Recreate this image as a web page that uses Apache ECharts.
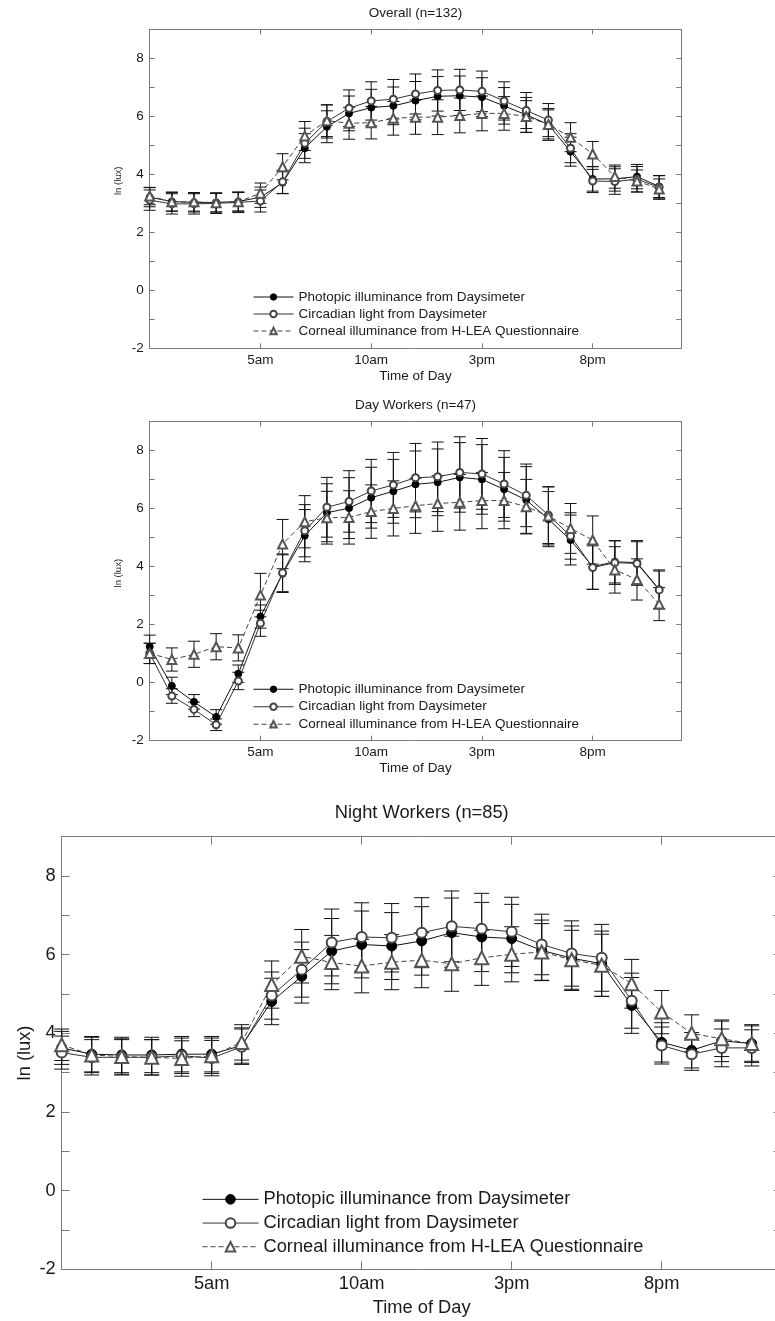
<!DOCTYPE html>
<html>
<head>
<meta charset="utf-8">
<title>Light exposure by time of day</title>
<script src="https://cdn.jsdelivr.net/npm/echarts@6/dist/echarts.min.js"></script>
<style>
  body { margin: 0; background: #fff; }
  #main { width: 775px; height: 1321px; }
</style>
</head>
<body>
<div id="main"></div>
<script>
// hour of day for every point (0 = midnight)
var hours = [0,1,2,3,4,5,6,7,8,9,10,11,12,13,14,15,16,17,18,19,20,21,22,23];
var xTickLabels = { 5: '5am', 10: '10am', 15: '3pm', 20: '8pm' };
var seriesNames = [
  'Photopic illuminance from Daysimeter',
  'Circadian light from Daysimeter',
  'Corneal illuminance from H-LEA Questionnaire'
];
var panelTitles = ['Overall (n=132)', 'Day Workers (n=47)', 'Night Workers (n=85)'];

// Overall (n=132)
var overallPhotopic  = [3.21,3.06,3.03,3.03,3.06,3.21,3.71,4.90,5.64,6.10,6.30,6.36,6.54,6.69,6.71,6.66,6.36,6.05,5.72,4.78,3.84,3.84,3.92,3.58];
var overallCircadian = [3.11,2.98,2.98,3.00,3.03,3.08,3.74,5.07,5.82,6.28,6.53,6.59,6.77,6.89,6.91,6.86,6.53,6.20,5.87,4.90,3.77,3.75,3.83,3.55];
var overallCorneal   = [3.25,3.05,3.05,3.02,3.05,3.35,4.26,5.32,5.85,5.76,5.78,5.93,5.97,5.97,6.03,6.10,6.10,5.99,5.72,5.28,4.70,3.92,3.77,3.49];
var overallPhotopicErr  = [0.33,0.33,0.33,0.33,0.33,0.35,0.38,0.50,0.55,0.60,0.63,0.65,0.66,0.68,0.68,0.67,0.63,0.60,0.55,0.50,0.42,0.42,0.42,0.38];
var overallCircadianErr = [0.35,0.35,0.35,0.35,0.35,0.38,0.40,0.52,0.57,0.63,0.66,0.68,0.69,0.71,0.71,0.70,0.66,0.62,0.57,0.50,0.40,0.44,0.44,0.40];
var overallCornealErr   = [0.30,0.32,0.32,0.32,0.32,0.35,0.45,0.50,0.55,0.55,0.56,0.58,0.59,0.60,0.60,0.60,0.58,0.55,0.50,0.50,0.43,0.40,0.38,0.35];

// Day workers (n=47)
var dayPhotopic  = [1.24,-0.11,-0.66,-1.18,0.31,2.28,3.76,5.07,5.86,6.02,6.38,6.60,6.84,6.91,7.08,7.01,6.67,6.30,5.64,4.92,4.00,4.17,4.14,3.22];
var dayCircadian = [1.01,-0.46,-0.92,-1.45,0.06,2.05,3.79,5.24,6.05,6.25,6.61,6.82,7.07,7.10,7.25,7.20,6.85,6.46,5.78,5.06,3.97,4.14,4.11,3.20];
var dayCorneal   = [1.01,0.80,0.98,1.24,1.20,3.02,4.78,5.55,5.69,5.70,5.90,6.01,6.10,6.18,6.22,6.28,6.28,6.07,5.75,5.32,4.92,3.89,3.56,2.71];
var dayPhotopicErr  = [0.40,0.30,0.25,0.25,0.30,0.40,0.65,0.90,1.00,1.05,1.05,1.10,1.15,1.15,1.20,1.20,1.10,1.15,0.95,0.86,0.78,0.73,0.76,0.67];
var dayCircadianErr = [0.35,0.25,0.25,0.20,0.30,0.45,0.65,0.90,1.03,1.06,1.09,1.12,1.18,1.20,1.23,1.22,1.15,1.08,0.98,0.80,0.75,0.75,0.75,0.65];
var dayCornealErr   = [0.35,0.40,0.45,0.45,0.45,0.75,0.85,0.90,0.91,0.92,0.92,0.95,0.95,0.96,0.96,0.97,0.97,0.94,1.00,0.86,0.83,0.80,0.71,0.57];

// Night workers (n=85)
var nightPhotopic  = [3.63,3.47,3.45,3.45,3.47,3.47,3.69,4.81,5.45,6.09,6.26,6.22,6.35,6.56,6.45,6.41,6.11,5.91,5.77,4.71,3.77,3.57,3.81,3.74];
var nightCircadian = [3.51,3.39,3.39,3.39,3.43,3.37,3.66,4.96,5.62,6.31,6.45,6.43,6.56,6.72,6.66,6.58,6.26,6.03,5.92,4.83,3.69,3.47,3.63,3.63];
var nightCorneal   = [3.71,3.45,3.41,3.39,3.36,3.43,3.77,5.24,5.96,5.80,5.71,5.81,5.86,5.77,5.92,6.01,6.07,5.87,5.73,5.26,4.54,4.00,3.86,3.74];
var nightPhotopicErr  = [0.42,0.45,0.45,0.45,0.45,0.45,0.45,0.59,0.68,0.83,0.85,0.85,0.87,0.88,0.88,0.87,0.77,0.82,0.83,0.71,0.50,0.45,0.53,0.48];
var nightCircadianErr = [0.42,0.45,0.45,0.45,0.45,0.45,0.45,0.60,0.70,0.85,0.87,0.87,0.89,0.90,0.90,0.88,0.77,0.83,0.85,0.70,0.47,0.41,0.48,0.46];
var nightCornealErr   = [0.40,0.45,0.45,0.45,0.45,0.45,0.45,0.60,0.68,0.69,0.68,0.70,0.70,0.70,0.70,0.70,0.72,0.75,0.79,0.62,0.55,0.47,0.45,0.45];

var chart = echarts.init(document.getElementById('main'));

var frameColor = '#7a7a7a';
var textColor = '#1a1a1a';
var font = 'Liberation Sans, Arial, sans-serif';

// one entry per panel: grid box, font sizes, marker sizes, legend spot
var panels = [
  { grid: { left: 149.7, top: 29.3, width: 531.6, height: 319 }, fs: 13.5, yfs: 9.5, tick: 5, dot: 7, tri: 9, cap: 6,
    labelMargin: 5, nameGap: 21, yNameGap: 26, yNamePad: [0, 0, 0, 16],
    legendLeft: 253, legendTop: 288.5, legendW: 40, legendH: 8, legendLine: 17, titleTop: 6,
    values: [overallPhotopic, overallCircadian, overallCorneal], errs: [overallPhotopicErr, overallCircadianErr, overallCornealErr] },
  { grid: { left: 149.7, top: 421.7, width: 531.6, height: 319 }, fs: 13.5, yfs: 9.5, tick: 5, dot: 7, tri: 9, cap: 6,
    labelMargin: 5, nameGap: 21, yNameGap: 26, yNamePad: [0, 0, 0, 16],
    legendLeft: 253, legendTop: 680.5, legendW: 40, legendH: 8, legendLine: 17.5, titleTop: 398,
    values: [dayPhotopic, dayCircadian, dayCorneal], errs: [dayPhotopicErr, dayCircadianErr, dayCornealErr] },
  { grid: { left: 61.7, top: 836.7, width: 720, height: 432.6 }, fs: 18.3, yfs: 18.3, tick: 8, dot: 10, tri: 13, cap: 7.5,
    labelMargin: 6, nameGap: 29.5, yNameGap: 28, yNamePad: 0,
    legendLeft: 202, legendTop: 1187.5, legendW: 56, legendH: 12, legendLine: 23.7, titleTop: 804,
    values: [nightPhotopic, nightCircadian, nightCorneal], errs: [nightPhotopicErr, nightCircadianErr, nightCornealErr] }
];

function xLabel(v) {
  return xTickLabels[v] || '';
}
function yLabel(v) {
  return v % 2 === 0 ? String(v) : '';
}

function errorSeries(values, errs, idx, capW) {
  return {
    type: 'custom',
    xAxisIndex: idx,
    yAxisIndex: idx,
    silent: true,
    z: 1,
    encode: { x: 0, y: [1, 2] },
    data: hours.map(function (h, i) {
      return [h, values[i] - errs[i], values[i] + errs[i]];
    }),
    renderItem: function (params, api) {
      var lo = api.coord([api.value(0), api.value(1)]);
      var hi = api.coord([api.value(0), api.value(2)]);
      var style = { stroke: '#111', lineWidth: 1, fill: null };
      return {
        type: 'group',
        children: [
          { type: 'line', shape: { x1: lo[0], y1: lo[1], x2: hi[0], y2: hi[1] }, style: style },
          { type: 'line', shape: { x1: lo[0] - capW, y1: lo[1], x2: lo[0] + capW, y2: lo[1] }, style: style },
          { type: 'line', shape: { x1: hi[0] - capW, y1: hi[1], x2: hi[0] + capW, y2: hi[1] }, style: style }
        ]
      };
    }
  };
}

function lineSeries(k, values, idx, p) {
  var s = {
    name: seriesNames[k],
    type: 'line',
    xAxisIndex: idx,
    yAxisIndex: idx,
    clip: false,
    z: 3,
    data: hours.map(function (h, i) { return [h, values[i]]; }),
    lineStyle: { color: '#111', width: 1, type: 'solid' },
    itemStyle: { color: '#000', borderColor: '#000', borderWidth: 1 },
    emphasis: { disabled: true }
  };
  if (k === 0) {
    s.symbol = 'circle';
    s.symbolSize = p.dot;
  } else if (k === 1) {
    s.symbol = 'emptyCircle';
    s.symbolSize = p.dot;
    s.lineStyle.color = '#333';
    s.itemStyle.color = '#444';
    s.itemStyle.borderColor = '#444';
  } else {
    s.symbol = 'emptyTriangle';
    s.symbolSize = p.tri;
    s.lineStyle.color = '#444';
    s.lineStyle.type = [5, 3];
    s.itemStyle.color = '#555';
    s.itemStyle.borderColor = '#555';
  }
  return s;
}

var grids = [], xBottom = [], xTop = [], yLeft = [], yRight = [];
var titles = [], legends = [], series = [];

panels.forEach(function (p, i) {
  grids.push(Object.assign({ outerBoundsMode: 'none', containLabel: false }, p.grid));

  xBottom.push({
    gridIndex: i, type: 'value', position: 'bottom', min: 0, max: 24, interval: 5,
    name: 'Time of Day', nameLocation: 'middle', nameGap: p.nameGap, nameMoveOverlap: false,
    nameTextStyle: { fontSize: p.fs, color: textColor, fontFamily: font },
    axisLine: { onZero: false, lineStyle: { color: frameColor, width: 1 } },
    axisTick: { inside: true, length: p.tick, lineStyle: { color: frameColor } },
    axisLabel: { formatter: xLabel, fontSize: p.fs, color: textColor, fontFamily: font, margin: p.labelMargin },
    splitLine: { show: false }
  });
  xTop.push({
    gridIndex: i, type: 'value', position: 'top', min: 0, max: 24, interval: 5,
    axisLine: { onZero: false, lineStyle: { color: frameColor, width: 1 } },
    axisTick: { inside: true, length: p.tick, lineStyle: { color: frameColor } },
    axisLabel: { show: false },
    splitLine: { show: false }
  });
  yLeft.push({
    gridIndex: i, type: 'value', position: 'left', min: -2, max: 9, interval: 1,
    name: 'ln (lux)', nameLocation: 'middle', nameGap: p.yNameGap, nameMoveOverlap: false,
    nameTextStyle: { fontSize: p.yfs, color: textColor, fontFamily: font, padding: p.yNamePad },
    axisLine: { show: true, onZero: false, lineStyle: { color: frameColor, width: 1 } },
    axisTick: { show: true, inside: true, length: p.tick, lineStyle: { color: frameColor } },
    axisLabel: { formatter: yLabel, fontSize: p.fs, color: textColor, fontFamily: font, margin: 6 },
    splitLine: { show: false }
  });
  yRight.push({
    gridIndex: i, type: 'value', position: 'right', min: -2, max: 9, interval: 1,
    axisLine: { show: true, onZero: false, lineStyle: { color: frameColor, width: 1 } },
    axisTick: { show: true, inside: true, length: p.tick, lineStyle: { color: frameColor } },
    axisLabel: { show: false },
    splitLine: { show: false }
  });

  titles.push({
    text: panelTitles[i],
    left: p.grid.left + p.grid.width / 2,
    top: p.titleTop,
    textAlign: 'center',
    padding: 0,
    textStyle: { fontSize: p.fs, fontWeight: 'normal', color: textColor, fontFamily: font }
  });

  legends.push({
    data: seriesNames,
    orient: 'vertical',
    left: p.legendLeft,
    top: p.legendTop,
    padding: 0,
    itemGap: 0,
    itemWidth: p.legendW,
    itemHeight: p.legendH,
    selectedMode: false,
    lineStyle: { width: 1 },
    itemStyle: { borderWidth: 1 },
    textStyle: { fontSize: p.fs, color: textColor, fontFamily: font, lineHeight: p.legendLine, height: p.legendLine }
  });

  for (var k = 0; k < 3; k++) {
    series.push(errorSeries(p.values[k], p.errs[k], i, p.cap));
  }
  for (var k2 = 0; k2 < 3; k2++) {
    series.push(lineSeries(k2, p.values[k2], i, p));
  }
});

var option = {
  backgroundColor: '#fff',
  animation: false,
  title: titles,
  legend: legends,
  grid: grids,
  xAxis: xBottom.concat(xTop),
  yAxis: yLeft.concat(yRight),
  series: series
};
chart.setOption(option);
</script>
</body>
</html>
